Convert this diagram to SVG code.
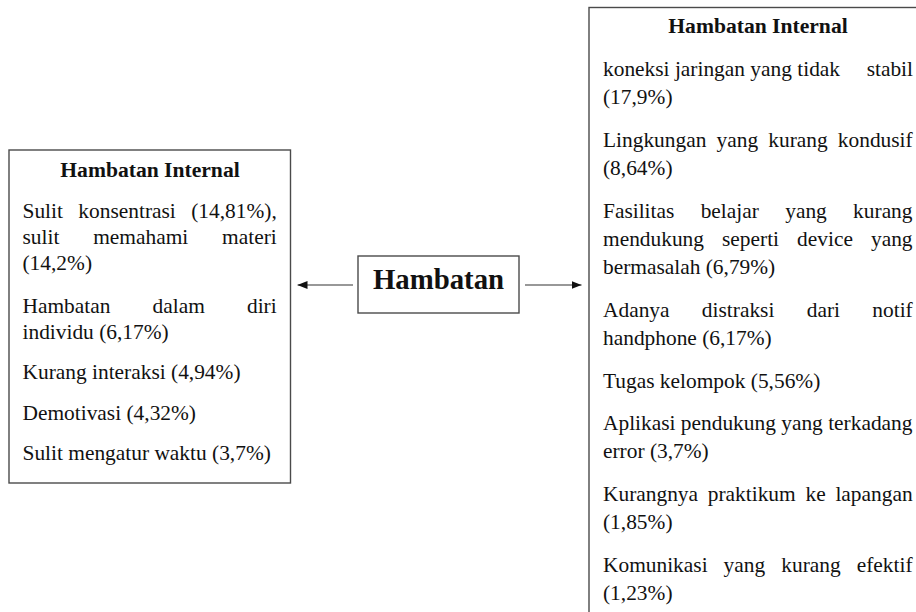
<svg xmlns="http://www.w3.org/2000/svg" width="916" height="612" viewBox="0 0 916 612">
  <style>
    .box { fill: #ffffff; stroke: #4a4a4a; stroke-width: 1.4; }
    .t { font-family: "Liberation Serif", "Times New Roman", serif; font-size: 21.4px; fill: #111111; }
    .h { font-family: "Liberation Serif", "Times New Roman", serif; font-size: 21.6px; font-weight: bold; fill: #111111; text-anchor: middle; }
    .c { font-family: "Liberation Serif", "Times New Roman", serif; font-size: 28.8px; font-weight: bold; fill: #111111; text-anchor: middle; }
    .e { text-anchor: end; }
    .line { stroke: #333333; stroke-width: 1.2; fill: none; }
  </style>
  <defs>
    <marker id="arrow" viewBox="0 0 10 8" refX="10" refY="4" markerWidth="10" markerHeight="8" markerUnits="userSpaceOnUse" orient="auto">
      <path d="M0,0 L10,4 L0,8 Z" fill="#111111"/>
    </marker>
  </defs>
  <rect width="916" height="612" fill="#ffffff"/>

  <!-- central node -->
  <g id="hambatan">
    <rect class="box" x="358" y="256" width="161" height="57"/>
    <text class="c" x="438.5" y="289">Hambatan</text>
  </g>

  <!-- left node: internal obstacles; justified lines use word-spacing -->
  <g id="internal-left">
    <rect class="box" x="9" y="150" width="281.5" height="333"/>
    <text class="h" x="150" y="177">Hambatan Internal</text>
    <text class="t" x="22.5" y="218" style="word-spacing:10.1px">Sulit konsentrasi (14,81%),</text>
    <text class="t" x="22.5" y="244" style="word-spacing:28.5px">sulit memahami materi</text>
    <text class="t" x="22.5" y="270">(14,2%)</text>
    <text class="t" x="22.5" y="313" style="word-spacing:36.8px">Hambatan dalam diri</text>
    <text class="t" x="22.5" y="339">individu (6,17%)</text>
    <text class="t" x="22.5" y="379">Kurang interaksi (4,94%)</text>
    <text class="t" x="22.5" y="420">Demotivasi (4,32%)</text>
    <text class="t" x="22.5" y="460">Sulit mengatur waktu (3,7%)</text>
  </g>

  <!-- right node: internal obstacles (box runs past the page edge) -->
  <g id="internal-right">
    <rect class="box" x="589" y="7.5" width="340" height="620"/>
    <text class="h" x="758" y="33">Hambatan Internal</text>
    <text class="t" x="603" y="76">koneksi jaringan yang tidak</text>
    <text class="t e" x="913" y="76">stabil</text>
    <text class="t" x="603" y="104">(17,9%)</text>

    <text class="t" x="603" y="147" style="word-spacing:4.8px">Lingkungan yang kurang kondusif</text>
    <text class="t" x="603" y="175">(8,64%)</text>

    <text class="t" x="603" y="218" style="word-spacing:21px">Fasilitas belajar yang kurang</text>
    <text class="t" x="603" y="246" style="word-spacing:12.7px">mendukung seperti device yang</text>
    <text class="t" x="603" y="274">bermasalah (6,79%)</text>

    <text class="t" x="603" y="317" style="word-spacing:27px">Adanya distraksi dari notif</text>
    <text class="t" x="603" y="345">handphone (6,17%)</text>

    <text class="t" x="603" y="388">Tugas kelompok (5,56%)</text>

    <text class="t" x="603" y="430">Aplikasi pendukung yang terkadang</text>
    <text class="t" x="603" y="458">error (3,7%)</text>

    <text class="t" x="603" y="501" style="word-spacing:4.4px">Kurangnya praktikum ke lapangan</text>
    <text class="t" x="603" y="529">(1,85%)</text>

    <text class="t" x="603" y="572" style="word-spacing:10.7px">Komunikasi yang kurang efektif</text>
    <text class="t" x="603" y="600">(1,23%)</text>
  </g>

  <!-- connectors -->
  <g id="connectors">
    <line class="line" x1="353" y1="285" x2="297.5" y2="285" marker-end="url(#arrow)"/>
    <line class="line" x1="525" y1="285" x2="581.5" y2="285" marker-end="url(#arrow)"/>
  </g>
</svg>
